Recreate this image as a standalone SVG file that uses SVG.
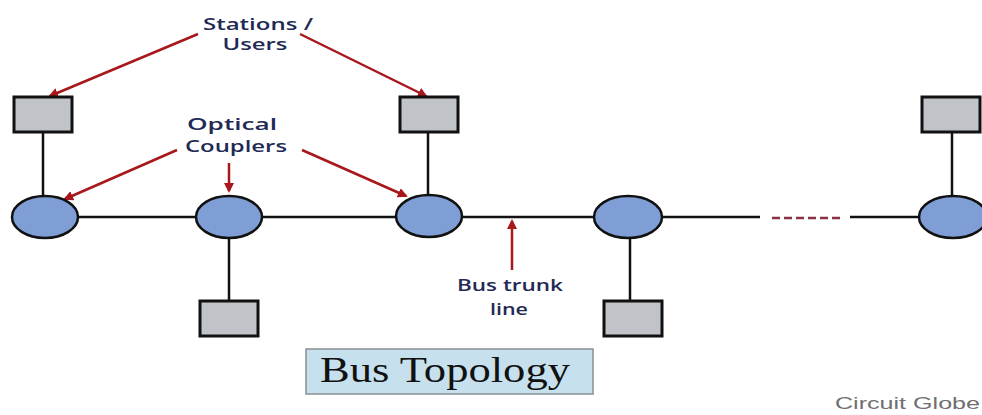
<svg xmlns="http://www.w3.org/2000/svg" width="982" height="415" viewBox="0 0 982 415">
<defs>
<style>
.trunk{stroke:#111;stroke-width:2.5;fill:none}
.coupler{fill:#7e9ed5;stroke:#111;stroke-width:2.5}
.station{fill:#c0c3c7;stroke:#111;stroke-width:3}
.arrow{stroke:#a8171b;stroke-width:2.5;fill:none;marker-end:url(#ah)}
.lbl{font-family:"Open Sans","Liberation Sans",sans-serif;font-size:16px;font-weight:600;fill:#1f2a55;text-anchor:middle}
</style>
<marker id="ah" viewBox="0 0 10 10" refX="8" refY="5" markerWidth="4" markerHeight="4" orient="auto" markerUnits="strokeWidth">
<path d="M0,0 L10,5 L0,10 z" fill="#a8171b"/>
</marker>
</defs>
<rect width="982" height="415" fill="#ffffff"/>
<g id="connectors">
<line class="trunk" x1="78" y1="217" x2="196" y2="217"/>
<line class="trunk" x1="262" y1="217" x2="396" y2="217"/>
<line class="trunk" x1="462" y1="217" x2="594" y2="217"/>
<line class="trunk" x1="662" y1="217" x2="760" y2="217"/>
<line x1="772" y1="218" x2="844" y2="218" stroke="#8a3146" stroke-width="2.5" stroke-dasharray="8,4"/>
<line class="trunk" x1="850" y1="217" x2="920" y2="217"/>
<line class="trunk" x1="43" y1="132" x2="43" y2="196"/>
<line class="trunk" x1="428" y1="132" x2="428" y2="196"/>
<line class="trunk" x1="952" y1="132" x2="952" y2="196"/>
<line class="trunk" x1="229" y1="238" x2="229" y2="301"/>
<line class="trunk" x1="630" y1="239" x2="630" y2="301"/>
<line class="arrow" x1="198" y1="34" x2="50" y2="96"/>
<line class="arrow" x1="300" y1="34" x2="426" y2="96"/>
<line class="arrow" x1="177" y1="150" x2="65" y2="199"/>
<line class="arrow" x1="229" y1="163" x2="229" y2="191"/>
<line class="arrow" x1="302" y1="150" x2="406" y2="196"/>
<line class="arrow" x1="512" y1="270" x2="512" y2="221"/>
</g>
<g id="coupler1"><ellipse class="coupler" cx="45" cy="217" rx="33" ry="21"/></g>
<g id="coupler2"><ellipse class="coupler" cx="229" cy="217" rx="33" ry="21"/></g>
<g id="coupler3"><ellipse class="coupler" cx="429" cy="216" rx="33" ry="21"/></g>
<g id="coupler4"><ellipse class="coupler" cx="628" cy="217" rx="34" ry="21"/></g>
<g id="coupler5"><ellipse class="coupler" cx="953" cy="217" rx="34" ry="21"/></g>
<g id="station1"><rect class="station" x="14" y="97" width="58" height="35"/></g>
<g id="station2"><rect class="station" x="400" y="97" width="58" height="35"/></g>
<g id="station3"><rect class="station" x="922" y="97" width="58" height="35"/></g>
<g id="station4"><rect class="station" x="200" y="301" width="58" height="35"/></g>
<g id="station5"><rect class="station" x="604" y="301" width="58" height="35"/></g>
<g id="label-stations">
<text class="lbl" x="258" y="30" textLength="110" lengthAdjust="spacingAndGlyphs">Stations /</text>
<text class="lbl" x="255" y="50" textLength="65" lengthAdjust="spacingAndGlyphs">Users</text>
</g>
<g id="label-couplers">
<text class="lbl" x="232" y="130" textLength="90" lengthAdjust="spacingAndGlyphs">Optical</text>
<text class="lbl" x="236" y="152" textLength="102" lengthAdjust="spacingAndGlyphs">Couplers</text>
</g>
<g id="label-trunk">
<text class="lbl" x="510" y="291" textLength="106" lengthAdjust="spacingAndGlyphs">Bus trunk</text>
<text class="lbl" x="509" y="315" textLength="38" lengthAdjust="spacingAndGlyphs">line</text>
</g>
<g id="title">
<rect x="306" y="349" width="287" height="45" fill="#c6e1ed" stroke="#8a8f93" stroke-width="1.5"/>
<text x="320" y="382" font-family="'Liberation Serif',serif" font-size="36" fill="#111" textLength="250" lengthAdjust="spacingAndGlyphs">Bus Topology</text>
</g>
<text x="835" y="409" font-family="'Liberation Sans',Arial,sans-serif" font-size="17" fill="#707070" textLength="145" lengthAdjust="spacingAndGlyphs">Circuit Globe</text>
</svg>
